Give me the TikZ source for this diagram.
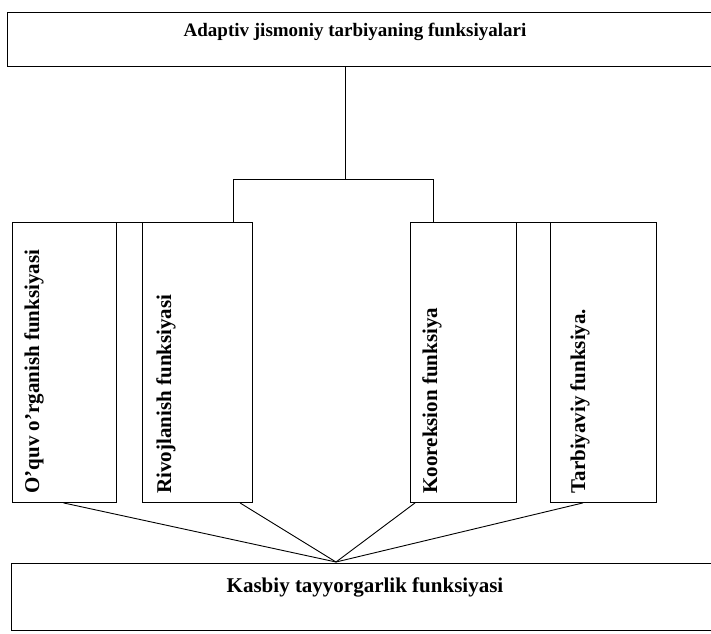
\documentclass[tikz,border=0pt]{standalone}
\usepackage{fontspec}
\setmainfont{Liberation Serif}
\begin{document}
\begin{tikzpicture}[x=1pt,y=-1pt,line width=0.9pt,
  box/.style={draw=black,rectangle,inner sep=0pt,anchor=north west},
  lbl/.style={inner sep=0pt,font=\bfseries\fontsize{21}{24}\selectfont},
  vlbl/.style={lbl,rotate=90,anchor=west},
  link/.style={draw=black,line width=0.9pt}]
\useasboundingbox (0,0) rectangle (711,633);
\fill[white] (0,0) rectangle (711,633);
\clip (0,0) rectangle (711,633);

% top and bottom boxes (running off the right edge)
\node[box,minimum width=720pt,minimum height=54pt] (top) at (7,12) {};
\node[lbl,font=\bfseries\fontsize{19}{22}\selectfont] (toptxt) at (355,32) {Adaptiv jismoniy tarbiyaning funksiyalari};
\node[box,minimum width=720pt,minimum height=67pt] (bot) at (11,563) {};
\node[lbl] (bottxt) at (365,587) {Kasbiy tayyorgarlik funksiyasi};

% the four function boxes
\node[box,minimum width=104pt,minimum height=280pt] (b1) at (12,222) {};
\node[box,minimum width=110pt,minimum height=280pt] (b2) at (142,222) {};
\node[box,minimum width=106pt,minimum height=280pt] (b3) at (410,222) {};
\node[box,minimum width=106pt,minimum height=280pt] (b4) at (550,222) {};

\node[vlbl] (t1) at (34,494) {O’quv o’rganish funksiyasi};
\node[vlbl] (t2) at (166,494) {Rivojlanish funksiyasi};
\node[vlbl] (t3) at (432,494) {Kooreksion funksiya};
\node[vlbl] (t4) at (580,494) {Tarbiyaviy funksiya.};

% joins across the narrow gaps
\draw[link] (b1.north east) -- (b2.north west);
\draw[link] (b3.north east) -- (b4.north west);

% fork from the top box
\coordinate (fork) at (345.6,179);
\coordinate (forkl) at (233.6,179);
\coordinate (forkr) at (433,179);
\draw[link] (top.south -| fork) -- (fork);
\draw[link] (forkl |- b2.north) -- (forkl) -- (forkr) -- (forkr |- b3.north);

% converging links to the bottom box
\coordinate (meet) at (336,562);
\draw[link] ([xshift=51.5pt]b1.south west) -- (meet);
\draw[link] ([xshift=98pt]b2.south west) -- (meet);
\draw[link] ([xshift=5pt]b3.south west) -- (meet);
\draw[link] ([xshift=33pt]b4.south west) -- (meet);
\end{tikzpicture}
\end{document}
